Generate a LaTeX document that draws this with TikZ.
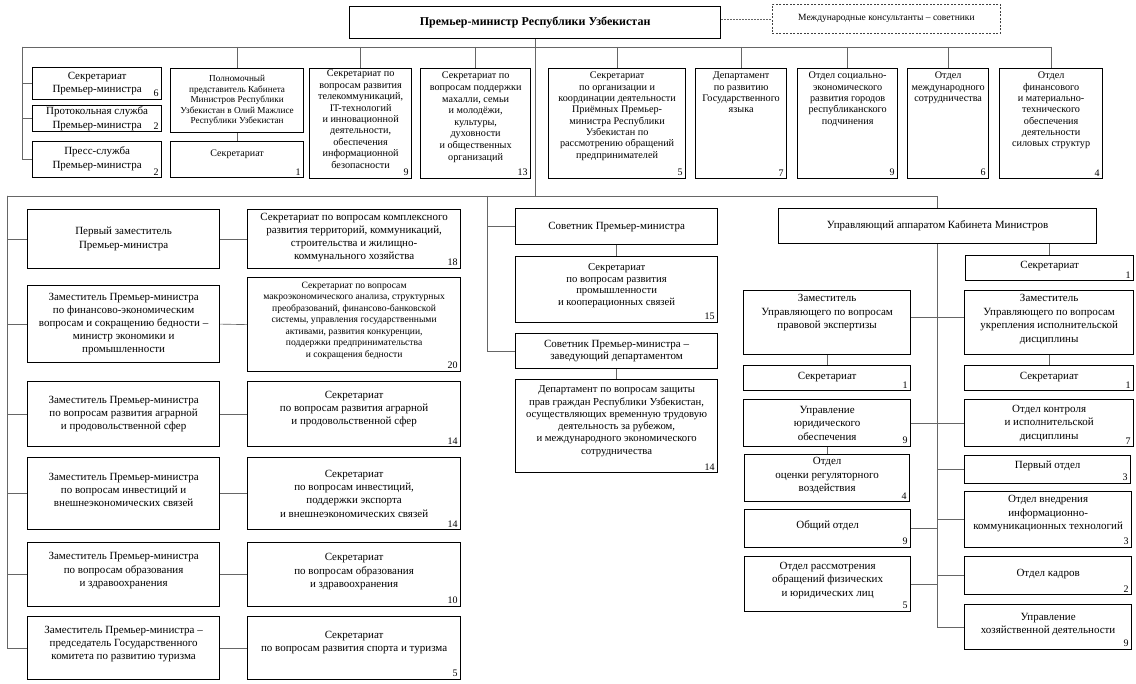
\documentclass[tikz,border=0pt]{standalone}
\usepackage{fontspec}
\setmainfont{Liberation Serif}
\newcommand\fs[2]{\fontsize{#1}{#2}\selectfont}
\tikzset{
  box/.style={draw=black, line width=1.25pt, inner sep=0pt, fill=white},
  txt/.style={align=center, inner sep=0pt, font={\fs{11}{13.5}}},
  small/.style={font={\fs{10.2}{11.3}}},
  mid/.style={font={\fs{10.7}{12.3}}},
  lnk/.style={draw=black!60, line width=0.65pt},
  num/.style={inner sep=0pt, font={\fs{10}{12}}, anchor=south east},
}
% centred text box: [text options]{name}{x1}{y1}{x2}{y2}{text}
\newcommand\obox[7][]{%
  \pgfmathsetmacro\bw{#5-#3}%
  \pgfmathsetmacro\bh{#6-#4}%
  \node[box,minimum width=\bw pt,minimum height=\bh pt,anchor=north west] (#2) at (#3,#4) {};%
  \node[txt,#1] (#2t) at (#2.center) {#7};%
}
% top-aligned text box
\newcommand\tbox[7][]{%
  \pgfmathsetmacro\bw{#5-#3}%
  \pgfmathsetmacro\bh{#6-#4}%
  \node[box,minimum width=\bw pt,minimum height=\bh pt,anchor=north west] (#2) at (#3,#4) {};%
  \node[txt,small,anchor=north,#1] (#2t) at ([yshift=-4pt]#2.north) {#7};%
}
\newcommand\nm[2]{\node[num] (#1n) at ([xshift=-3.5pt,yshift=3pt]#1.south east) {#2};}
\begin{document}
\begin{tikzpicture}[x=1pt,y=-1pt]
\useasboundingbox[fill=white] (0,0) rectangle (1136,684);

% ---------- top ----------
\obox[font={\bfseries\fs{12}{14}}]{pm}{349}{6}{720}{38}{Премьер-министр Республики Узбекистан}
\node[draw=black!75, line width=0.8pt, dash pattern=on 2pt off 1.5pt, minimum width=228pt, minimum height=29pt, anchor=north west, inner sep=0pt, font={\fs{9.5}{11}}] (cons) at (772,4) {Международные консультанты – советники};
\draw[lnk, dash pattern=on 1.5pt off 1.5pt] (pm.east |- cons.west) -- (cons.west);

% top row
\obox{spm}{32}{67}{161}{99}{Секретариат\\Премьер-министра}\nm{spm}{6}
\obox[yshift=0pt]{prot}{32}{105}{161}{131}{Протокольная служба\\Премьер-министра}\nm{prot}{2}
\obox[yshift=1pt]{press}{32}{141}{161}{177}{Пресс-служба\\Премьер-министра}\nm{press}{2}
\obox[font={\fs{9.2}{10.6}}]{pol}{170}{68}{303}{132}{Полномочный\\представитель Кабинета\\Министров Республики\\Узбекистан в Олий Мажлисе\\Республики Узбекистан}
\obox[yshift=5pt,font={\fs{10}{12}}]{polS}{170}{141}{303}{177}{Секретариат}\nm{polS}{1}
\tbox[yshift=2pt,font={\fs{10.2}{11.4}}]{tel}{309}{68}{411}{178}{Секретариат по\\вопросам развития\\телекоммуникаций,\\IT-технологий\\и инновационной\\деятельности,\\обеспечения\\информационной\\безопасности}\nm{tel}{9}
\tbox[font={\fs{10.2}{11.6}}]{mah}{420}{68}{530}{178}{Секретариат по\\вопросам поддержки\\махалли, семьи\\и молодёжи,\\культуры,\\духовности\\и общественных\\организаций}\nm{mah}{13}
\tbox{pri}{548}{68}{685}{178}{Секретариат\\по организации и\\координации деятельности\\Приёмных Премьер-\\министра Республики\\Узбекистан по\\рассмотрению обращений\\предпринимателей}\nm{pri}{5}
\tbox{yaz}{695}{68}{786}{178}{Департамент\\по развитию\\Государственного\\языка}\nm{yaz}{7}
\tbox{soc}{797}{68}{897}{178}{Отдел социально-\\экономического\\развития городов\\республиканского\\подчинения}\nm{soc}{9}
\tbox{mez}{907}{68}{988}{178}{Отдел\\международного\\сотрудничества}\nm{mez}{6}
\tbox{fin}{999}{68}{1102}{178}{Отдел\\финансового\\и материально-\\технического\\обеспечения\\деятельности\\силовых структур}\nm{fin}{4}

\coordinate (tbL) at (22,47);
\draw[lnk] (tbL) -- (tbL -| fin.north);
\foreach \b in {pol,tel,mah,pri,yaz,soc,mez,fin} \draw[lnk] (\b.north |- tbL) -- (\b.north);
\foreach \b in {spm,prot,press} \draw[lnk] (tbL) |- (\b.west);
\draw[lnk] (pol.south) -- (polS.north);

% ---------- lower bus ----------
\coordinate (lbL) at (7,196);
\coordinate (mdrop) at (487,196);

% left column
\obox{d1}{27}{209}{219}{268}{Первый заместитель\\Премьер-министра}
\obox[yshift=2pt,font={\fs{11}{13}}]{s1}{247}{209}{460}{268}{Секретариат по вопросам комплексного\\развития территорий, коммуникаций,\\строительства и жилищно-\\коммунального хозяйства}\nm{s1}{18}
\obox[font={\fs{11}{12.8}}]{d2}{27}{285}{219}{362}{Заместитель Премьер-министра\\по финансово-экономическим\\вопросам и сокращению бедности –\\министр экономики и\\промышленности}
\obox[yshift=4pt,font={\fs{9.6}{11.5}}]{s2}{247}{277}{460}{371}{Секретариат по вопросам\\макроэкономического анализа, структурных\\преобразований, финансово-банковской\\системы, управления государственными\\активами, развития конкуренции,\\поддержки предпринимательства\\и сокращения бедности}\nm{s2}{20}
\obox[font={\fs{11}{13}}]{d3}{27}{381}{219}{446}{Заместитель Премьер-министра\\по вопросам развития аграрной\\и продовольственной сфер}
\obox[yshift=5pt,font={\fs{11}{13}}]{s3}{247}{381}{460}{446}{Секретариат\\по вопросам развития аграрной\\и продовольственной сфер}\nm{s3}{14}
\obox[yshift=4pt,font={\fs{11}{12.8}}]{d4}{27}{457}{219}{529}{Заместитель Премьер-министра\\по вопросам инвестиций и\\внешнеэкономических связей}
\obox[yshift=0pt,font={\fs{11}{13.3}}]{s4}{247}{457}{460}{529}{Секретариат\\по вопросам инвестиций,\\поддержки экспорта\\и внешнеэкономических связей}\nm{s4}{14}
\obox[yshift=4pt,font={\fs{11}{13.3}}]{d5}{27}{542}{219}{606}{Заместитель Премьер-министра\\по вопросам образования\\и здравоохранения}
\obox[yshift=3pt,font={\fs{11}{13.5}}]{s5}{247}{542}{460}{606}{Секретариат\\по вопросам образования\\и здравоохранения}\nm{s5}{10}
\obox[yshift=4pt,font={\fs{11}{13.3}}]{d6}{27}{616}{219}{679}{Заместитель Премьер-министра –\\председатель Государственного\\комитета по развитию туризма}
\obox[yshift=6pt,font={\fs{11}{13}}]{s6}{247}{616}{460}{679}{Секретариат\\по вопросам развития спорта и туризма}\nm{s6}{5}
\foreach \i in {1,...,6} {
  \draw[lnk] (lbL) |- (d\i.west);
  \draw[lnk] (d\i.east) -- (s\i.west);
}

% middle column
\obox{sov}{515}{208}{717}{244}{Советник Премьер-министра}
\obox[yshift=4pt,font={\fs{10.7}{11.7}}]{s15}{515}{256}{717}{322}{Секретариат\\по вопросам развития\\промышленности\\и кооперационных связей}\nm{s15}{15}
\obox[font={\fs{11}{12}}]{sovz}{515}{333}{717}{368}{Советник Премьер-министра –\\заведующий департаментом}
\obox[yshift=5pt,mid]{dep}{515}{379}{717}{472}{Департамент по вопросам защиты\\прав граждан Республики Узбекистан,\\осуществляющих временную трудовую\\деятельность за рубежом,\\и международного экономического\\сотрудничества}\nm{dep}{14}
\draw[lnk] (mdrop) |- (sov.west);
\draw[lnk] (mdrop) |- (sovz.west);
\draw[lnk] (sov.south) -- (s15.north);
\draw[lnk] (sovz.south) -- (dep.north);

% right column
\obox{upr}{778}{208}{1096}{243}{Управляющий аппаратом Кабинета Министров}
\obox[yshift=2.5pt]{sr1}{965}{255}{1133}{280}{Секретариат}\nm{sr1}{1}
\obox[yshift=10pt]{depL}{743}{290}{910}{354}{Заместитель\\Управляющего по вопросам\\правовой экспертизы}
\obox[yshift=3pt]{depR}{964}{290}{1133}{354}{Заместитель\\Управляющего по вопросам\\укрепления исполнительской\\дисциплины}
\obox[yshift=1.5pt]{secL}{743}{365}{910}{390}{Секретариат}\nm{secL}{1}
\obox[yshift=1.5pt]{secR}{964}{365}{1133}{390}{Секретариат}\nm{secR}{1}
\obox{uyur}{743}{399}{910}{446}{Управление\\юридического\\обеспечения}\nm{uyur}{9}
\obox{okon}{964}{399}{1133}{446}{Отдел контроля\\и исполнительской\\дисциплины}\nm{okon}{7}
\obox[yshift=2.5pt]{otsen}{744}{454}{909}{501}{Отдел\\оценки регуляторного\\воздействия}\nm{otsen}{4}
\obox[yshift=4pt]{perv}{964}{455}{1130}{483}{Первый отдел}\nm{perv}{3}
\obox[yshift=3pt]{obsh}{744}{509}{910}{547}{Общий отдел}\nm{obsh}{9}
\obox[yshift=6pt]{ikt}{964}{491}{1131}{547}{Отдел внедрения\\информационно-\\коммуникационных технологий}\nm{ikt}{3}
\obox[yshift=4pt]{rassm}{744}{556}{910}{611}{Отдел рассмотрения\\обращений физических\\и юридических лиц}\nm{rassm}{5}
\obox[yshift=2pt]{kadr}{964}{556}{1131}{594}{Отдел кадров}\nm{kadr}{2}
\obox[yshift=2.5pt]{khoz}{964}{604}{1131}{649}{Управление\\хозяйственной деятельности}\nm{khoz}{9}

\draw[lnk] (lbL) -- (lbL -| upr.north) -- (upr.north);
\draw[lnk] (pm.south) -- (pm.south |- lbL);
\draw[lnk] (upr.south) -- (upr.south |- khoz.west) -- (khoz.west);
\draw[lnk] (sr1.north |- upr.south) -- (sr1.north);
\draw[lnk] ([yshift=5pt]depL.east) -- ([yshift=5pt]depL.east -| depR.west);
\draw[lnk] (depL.south) -- (secL.north);
\draw[lnk] (depR.south) -- (secR.north);
\draw[lnk] (uyur.east) -- (okon.west);
\draw[lnk] (uyur.south) -- (otsen.north);
\foreach \b in {perv,ikt,kadr} \draw[lnk] (\b.west -| upr.south) -- (\b.west);
\foreach \b in {obsh,rassm} \draw[lnk] (\b.east) -- (\b.east -| upr.south);
\end{tikzpicture}
\end{document}
